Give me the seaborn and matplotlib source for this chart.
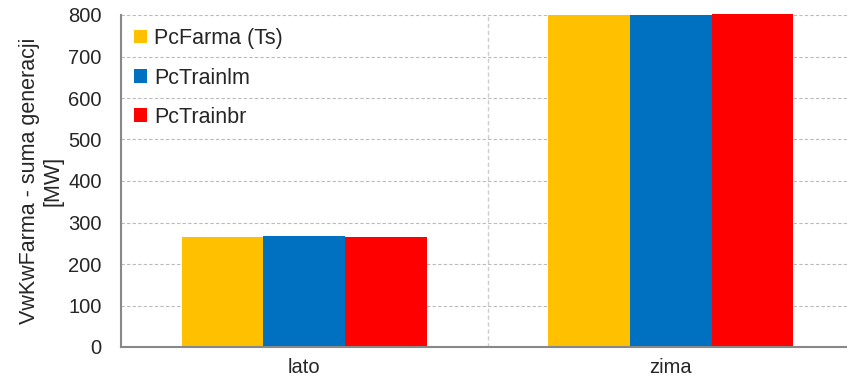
import numpy as np
import pandas as pd
import seaborn as sns
import matplotlib.pyplot as plt
from matplotlib.patches import Patch
from matplotlib.ticker import FixedLocator

# =========================
# DATA
# =========================
categories = ["lato", "zima"]
series = ["PcFarma (Ts)", "PcTrainlm", "PcTrainbr"]
farma_ts = [266, 799]
trainlm = [267, 800]
trainbr = [266, 803]
colors = ["#FFC000", "#0070C0", "#FF0000"]

df = pd.DataFrame({
    "sezon": categories * 3,
    "seria": [s for s in series for _ in categories],
    "wartosc": farma_ts + trainlm + trainbr,
})

# =========================
# PLOT
# =========================
sns.set_style("white")
plt.rcParams["font.family"] = ["Liberation Sans", "DejaVu Sans"]

fig = plt.figure(figsize=(8.47, 3.85), dpi=100)
ax = fig.add_axes([121 / 847, 38 / 385, 733 / 847, 332 / 385])

sns.barplot(data=df, x="sezon", y="wartosc", hue="seria", order=categories,
            hue_order=series, palette=colors, width=0.668, saturation=1,
            linewidth=0, legend=False, ax=ax)
for p in ax.patches:
    p.set_clip_on(False)

ax.set_xlim(-0.5, 1.5)
ax.set_ylim(0, 800)
ax.set_yticks(np.arange(0, 801, 100))
ax.yaxis.grid(True, linestyle=(0, (3, 2)), color="#BBBBBB", linewidth=0.8)
ax.axvline(0.5, linestyle=(0, (3, 2)), color="#CCCCCC", linewidth=1.0, zorder=0)
ax.set_axisbelow(True)

ax.xaxis.set_minor_locator(FixedLocator([-0.5, 0.5, 1.5]))
ax.tick_params(axis="x", which="major", length=0, labelsize=14.5, pad=8)
ax.tick_params(axis="x", which="minor", length=6, color="#888888", width=1)
ax.tick_params(axis="y", length=5, color="#888888", width=1, labelsize=14.5, pad=9)

for side in ["top", "right"]:
    ax.spines[side].set_visible(False)
for side in ["left", "bottom"]:
    ax.spines[side].set_color("#888888")
    ax.spines[side].set_linewidth(1.5)

ax.set_xlabel("")
ax.set_ylabel("VwKwFarma - suma generacji\n[MW]", fontsize=15.5, linespacing=1.2,
              labelpad=3)

handles = [Patch(facecolor=c, edgecolor="none") for c in colors]
ax.legend(handles, series, loc="upper left", bbox_to_anchor=(-0.006, 1.012),
          frameon=False, fontsize=15.5, handlelength=0.6, handleheight=0.6,
          handletextpad=0.35, labelspacing=0.85, borderaxespad=0.4)

fig.savefig("out.png", dpi=100)
